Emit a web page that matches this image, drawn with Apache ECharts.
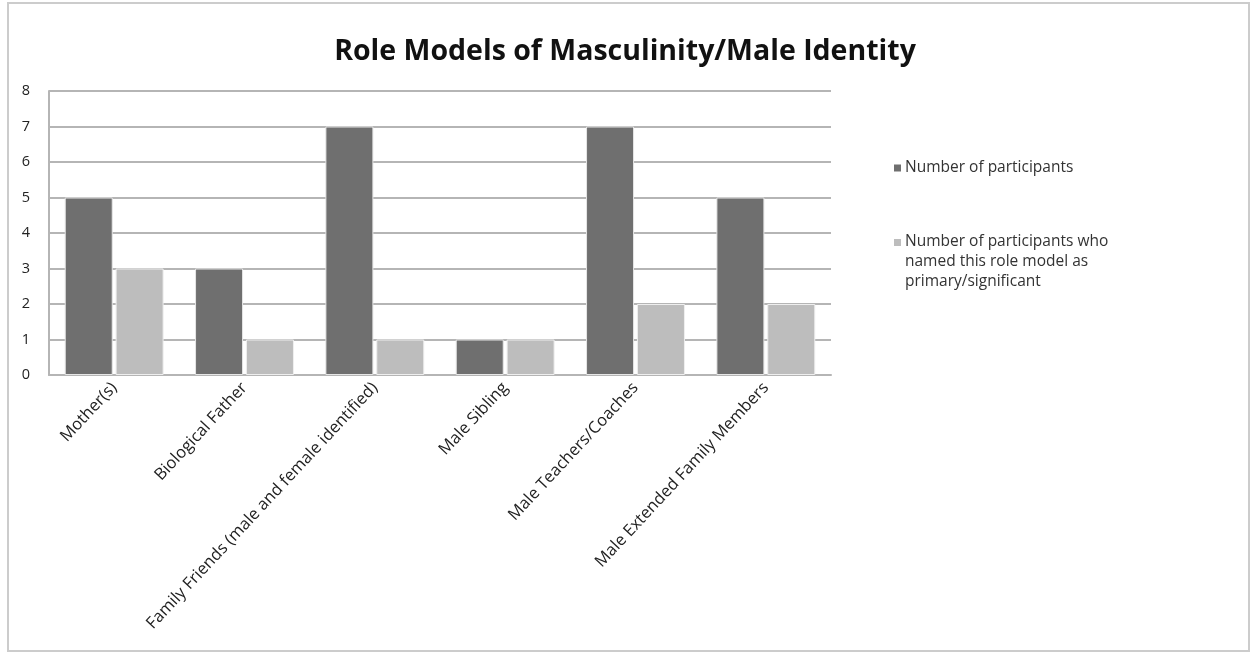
<!DOCTYPE html>
<html>
<head>
<meta charset="utf-8">
<script src="https://cdn.jsdelivr.net/npm/echarts@6/dist/echarts.min.js"></script>
<style>
html,body{margin:0;padding:0;background:#fff;}
#chart{width:1250px;height:654px;}
</style>
</head>
<body>
<div id="chart"></div>
<script>
const titleText = 'Role Models of Masculinity/Male Identity';
const categories = ['Mother(s)', 'Biological Father', 'Family Friends (male and female identified)', 'Male Sibling', 'Male Teachers/Coaches', 'Male Extended Family Members'];
const seriesNames = ['Number of participants', 'Number of participants who named this role model as primary/significant'];
const participants = [5, 3, 7, 1, 7, 5];
const primary = [3, 1, 1, 1, 2, 2];
const yTicks = [0, 1, 2, 3, 4, 5, 6, 7, 8];

const FONT = '"Open Sans", Lato, sans-serif';
const chart = echarts.init(document.getElementById('chart'), null, {renderer: 'canvas'});
chart.setOption({
  backgroundColor: '#ffffff',
  animation: false,
  title: {
    text: titleText,
    left: 'center',
    top: 32,
    textStyle: {fontFamily: FONT, fontSize: 28.5, fontWeight: 'bold', color: '#111'}
  },
  graphic: [{
    type: 'rect',
    shape: {x: 8, y: 3, width: 1241, height: 648},
    style: {fill: null, stroke: '#cccccc', lineWidth: 2},
    silent: true
  }],
  legend: [{
    data: [seriesNames[0]],
    left: 889,
    top: 155,
    orient: 'vertical',
    icon: 'rect',
    itemWidth: 7,
    itemHeight: 7,
    itemStyle: {borderWidth: 0},
    textStyle: {fontFamily: FONT, fontSize: 15.5, color: '#333', padding: [0, 0, 0, -1]}
  }, {
    data: [seriesNames[1]],
    left: 889,
    top: 227,
    orient: 'vertical',
    icon: 'path://M0,0L7,0L7,7L0,7Z M0,46L0.001,46L0.001,46.001Z',
    itemWidth: 7,
    itemHeight: 46,
    itemStyle: {borderWidth: 0},
    formatter: function () { return 'Number of participants who\nnamed this role model as\nprimary/significant'; },
    textStyle: {fontFamily: FONT, fontSize: 15.5, lineHeight: 20, color: '#333', padding: [0, 0, 0, -1]}
  }],
  grid: {left: 49, right: 419, top: 91, bottom: 279, containLabel: false},
  xAxis: {
    type: 'category',
    data: categories,
    axisLine: {show: true, lineStyle: {color: '#b5b5b5', width: 2}},
    axisTick: {show: false},
    axisLabel: {rotate: 47, interval: 0, margin: 10, fontFamily: FONT, fontSize: 16.5, color: '#222'}
  },
  yAxis: {
    type: 'value',
    min: 0,
    max: 8,
    interval: 1,
    axisLine: {show: true, lineStyle: {color: '#b5b5b5', width: 2}},
    axisTick: {show: false},
    axisLabel: {fontFamily: FONT, fontSize: 14.5, color: '#222', margin: 19,
      formatter: function (v) { return yTicks.indexOf(v) >= 0 ? String(v) : ''; }},
    splitLine: {show: true, lineStyle: {color: '#b5b5b5', width: 2}}
  },
  series: [{
    name: seriesNames[0],
    type: 'bar',
    data: participants,
    barWidth: 48,
    barGap: '6%',
    itemStyle: {color: '#6f6f6f', borderColor: '#e6e6e6', borderWidth: 1}
  }, {
    name: seriesNames[1],
    type: 'bar',
    data: primary,
    barWidth: 48,
    itemStyle: {color: '#bdbdbd', borderColor: '#eeeeee', borderWidth: 1}
  }]
});
</script>
</body>
</html>
